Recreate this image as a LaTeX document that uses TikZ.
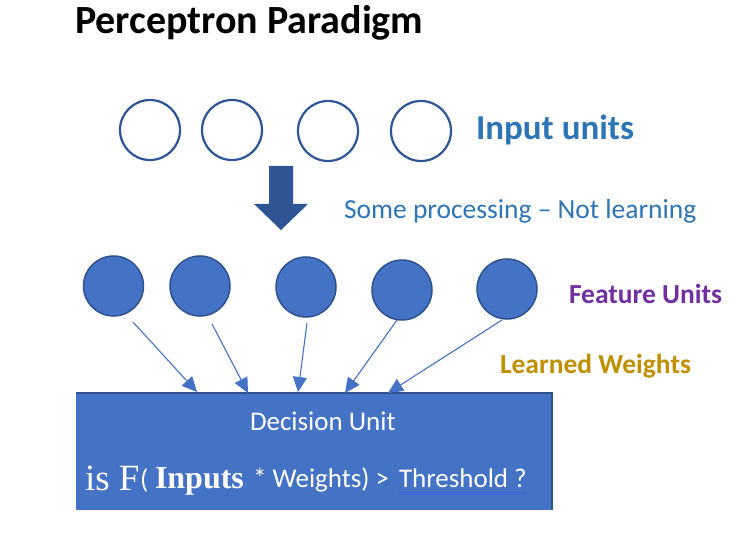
\documentclass[tikz,border=0pt]{standalone}
\usepackage{fontspec}
\setmainfont{Carlito}
\newfontfamily\tnr{Liberation Serif}
\usetikzlibrary{arrows.meta,calc}
\definecolor{dkblue}{HTML}{2F5597}
\definecolor{featfill}{HTML}{4472C4}
\definecolor{featline}{HTML}{2F528F}
\definecolor{txtblue}{HTML}{2E75B6}
\definecolor{purp}{HTML}{7030A0}
\definecolor{gold}{HTML}{BF9000}
\definecolor{ulblue}{HTML}{3A66D6}
\newcommand{\fs}[1]{\fontsize{#1}{#1}\selectfont}
\begin{document}
\begin{tikzpicture}[x=1pt,y=-1pt,
  inunit/.style={circle,draw=dkblue,line width=2.2pt,fill=white,minimum size=60pt,inner sep=0pt},
  featunit/.style={circle,draw=featline,line width=1.5pt,fill=featfill,minimum size=60pt,inner sep=0pt},
  conn/.style={draw=featfill,line width=1.1pt,-{Triangle[length=15pt,width=14pt]}},
  lbl/.style={anchor=base west,inner sep=0pt,outer sep=0pt}]
\useasboundingbox (0,0) rectangle (731,545);
\fill[white] (0,0) rectangle (731,545);
% title
\node[lbl] (title) at (75,34) {\fs{40}\bfseries Perceptron Paradigm};
% input units
\node[inunit] (i1) at (150,130) {};
\node[inunit] (i2) at (232,130) {};
\node[inunit] (i3) at (328,131) {};
\node[inunit] (i4) at (421,131) {};
\node[lbl,text=txtblue] (inlbl) at (476,140) {\fs{35}\bfseries Input units};
% block arrow
\fill[dkblue] (269,166) -- (293,166) -- (293,204) -- (308,204) -- (281,230) -- (254,204) -- (269,204) -- cycle;
\node[lbl,text=txtblue] (proc) at (344,219) {\fs{27.5}Some processing -- Not learning};
% feature units
\node[featunit] (f1) at (113.5,286) {};
\node[featunit] (f2) at (200,286) {};
\node[featunit] (f3) at (306,287) {};
\node[featunit] (f4) at (402,290) {};
\node[featunit] (f5) at (507,289) {};
\node[lbl,text=purp] (featlbl) at (569,304) {\fs{27.5}\bfseries Feature Units};
\node[lbl,text=gold] (wlbl) at (500,373) {\fs{27.5}\bfseries Learned Weights};
% decision unit
\fill[featfill] (76,393) rectangle (552,510);
\draw[featline,line width=1.5pt] (76,393) -- (552,393) -- (552,510);
\coordinate (s1) at (133,322); \coordinate (t1) at (197,392);
\coordinate (s2) at (212,324); \coordinate (t2) at (248,393);
\coordinate (s3) at (307,323); \coordinate (t3) at (298,392);
\coordinate (s4) at (397,320); \coordinate (t4) at (345,393);
\coordinate (s5) at (502,320); \coordinate (t5) at (388,393);
\draw[conn] (s1) -- (t1);
\draw[conn] (s2) -- (t2);
\draw[conn] (s3) -- (t3);
\draw[conn] (s4) -- (t4);
\draw[conn] (s5) -- (t5);
\node[lbl,text=white] (dec) at (250,430) {\fs{27}Decision Unit};
\node[lbl,text=white] (isf) at (85,490) {\tnr\fs{37}is F};
\node[lbl,text=white] (par) at (140,488) {\fs{27}(};
\node[lbl,text=white] (inp) at (155,488) {\tnr\fs{32}\bfseries Inputs};
\node[lbl,text=white] (wts) at (253,487) {\fs{27}* Weights) >};
\node[lbl,text=white] (thr) at (399,487) {\fs{27}Threshold ?};
\draw[ulblue,line width=1pt] ([yshift=-5pt]thr.base west) -- ([yshift=-5pt]thr.base east);
\draw[ulblue,line width=1pt] ([yshift=-7.5pt]thr.base west) -- ([yshift=-7.5pt]thr.base east);
\end{tikzpicture}
\end{document}
